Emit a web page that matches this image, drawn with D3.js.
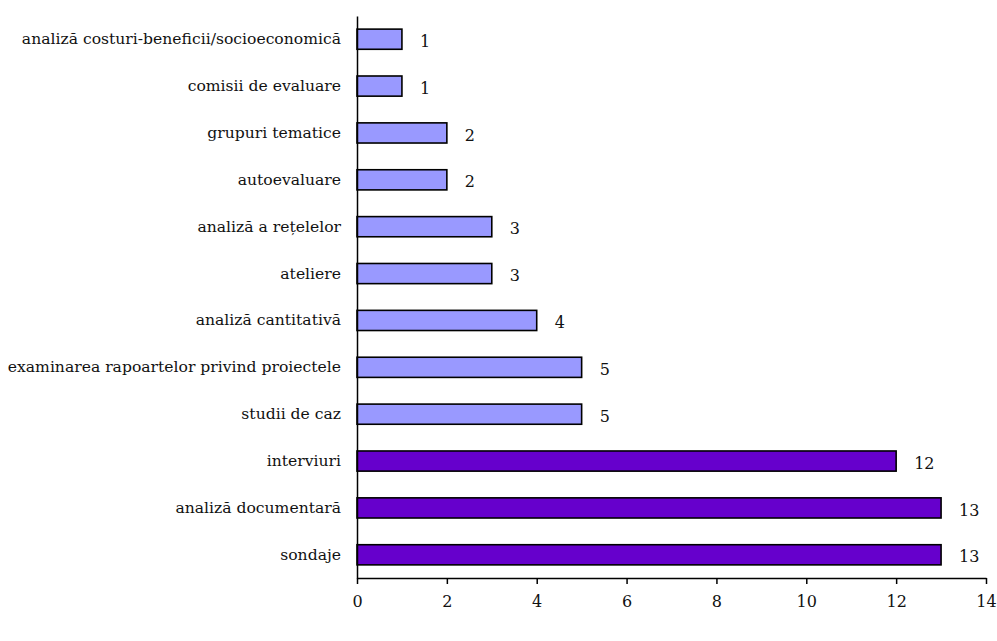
<!DOCTYPE html>
<html>
<head>
<meta charset="utf-8">
<script src="https://cdn.jsdelivr.net/npm/d3@7"></script>
<style>
  body { margin: 0; background: #fff; }
  text { font-family: "DejaVu Serif"; fill: #111; }
</style>
</head>
<body>
<script>
// categories from top to bottom, as in the picture
var categories = [
  'analiză costuri-beneficii/socioeconomică',
  'comisii de evaluare',
  'grupuri tematice',
  'autoevaluare',
  'analiză a rețelelor',
  'ateliere',
  'analiză cantitativă',
  'examinarea rapoartelor privind proiectele',
  'studii de caz',
  'interviuri',
  'analiză documentară',
  'sondaje'
];
var values = [1, 1, 2, 2, 3, 3, 4, 5, 5, 12, 13, 13];
// the three most used methods are shown darker
var highlighted = ['interviuri', 'analiză documentară', 'sondaje'];
var xTicks = [0, 2, 4, 6, 8, 10, 12, 14];

var width = 997, height = 641;
var margin = { top: 16, right: 11, bottom: 63, left: 357 };
var serif = '"DejaVu Serif"';

var svg = d3.select('body').append('svg')
  .attr('width', width)
  .attr('height', height);

var x = d3.scaleLinear()
  .domain([0, 14])
  .range([margin.left, width - margin.right]);

var y = d3.scaleBand()
  .domain(categories)
  .range([margin.top, height - margin.bottom])
  .paddingInner(0.57)
  .paddingOuter(0.28);

var data = categories.map(function(c, i) { return { name: c, value: values[i] }; });

// bars
svg.append('g').selectAll('rect')
  .data(data)
  .enter().append('rect')
  .attr('x', x(0))
  .attr('y', function(d) { return y(d.name); })
  .attr('width', function(d) { return x(d.value) - x(0); })
  .attr('height', y.bandwidth())
  .attr('fill', function(d) { return highlighted.indexOf(d.name) >= 0 ? '#6600CC' : '#9999FF'; })
  .attr('stroke', '#000')
  .attr('stroke-width', 1.6);

// value labels
svg.append('g').selectAll('text')
  .data(data)
  .enter().append('text')
  .attr('x', function(d) { return x(d.value) + 18; })
  .attr('y', function(d) { return y(d.name) + y.bandwidth() / 2 + 2; })
  .attr('dy', '0.35em')
  .attr('font-family', serif)
  .style('font-size', '16px')
  .text(function(d) { return d.value; });

// x axis
var xAxis = svg.append('g')
  .attr('transform', 'translate(0,' + (height - margin.bottom) + ')')
  .call(d3.axisBottom(x).tickValues(xTicks).tickSizeInner(6).tickSizeOuter(0).tickPadding(12));
xAxis.attr('font-family', serif).attr('font-size', 16);
xAxis.select('.domain').attr('stroke', '#000').attr('stroke-width', 1.5);
xAxis.selectAll('.tick line').attr('stroke', '#000').attr('stroke-width', 1.5);
xAxis.selectAll('.tick text').attr('fill', '#111');

// y axis
var yAxis = svg.append('g')
  .attr('transform', 'translate(' + margin.left + ',0)')
  .call(d3.axisLeft(y).tickSize(0).tickPadding(16));
yAxis.attr('font-family', serif).attr('font-size', 15.6);
yAxis.select('.domain').attr('stroke', '#000').attr('stroke-width', 1.5);
yAxis.selectAll('.tick text').attr('fill', '#111');
</script>
</body>
</html>
